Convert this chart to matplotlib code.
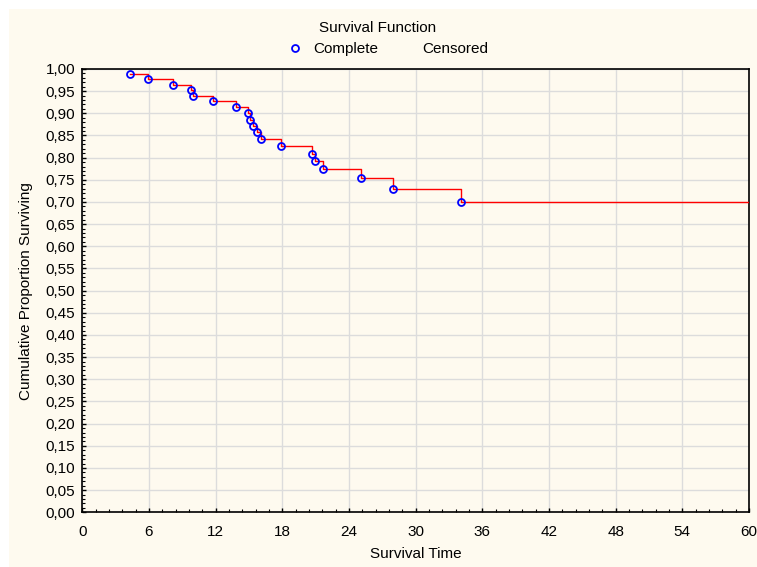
import matplotlib
matplotlib.use('Agg')
import matplotlib.pyplot as plt
from matplotlib.patches import Rectangle
from matplotlib.ticker import MultipleLocator, FuncFormatter
from matplotlib.lines import Line2D

plt.rcParams['font.family'] = ['Liberation Sans', 'DejaVu Sans']

# survival data
times = [4.29, 5.94, 8.14, 9.81, 9.94, 11.79, 13.79, 14.94, 15.08, 15.35,
         15.75, 16.04, 17.87, 20.67, 20.95, 21.64, 25.11, 27.97, 34.06]
surv = [0.989, 0.977, 0.965, 0.953, 0.940, 0.927, 0.914, 0.900, 0.886, 0.872,
        0.857, 0.842, 0.827, 0.809, 0.792, 0.774, 0.753, 0.730, 0.701]
t_end = 60
x_ticks = [0, 6, 12, 18, 24, 30, 36, 42, 48, 54, 60]

cream = '#fefaef'
fs = 11

fig = plt.figure(figsize=(7.57, 5.67), dpi=100)
fig.patch.set_facecolor('white')
fig.patches.append(Rectangle((9 / 757, 0), 1 - 9 / 757, (567 - 9) / 567,
                             transform=fig.transFigure, facecolor=cream,
                             edgecolor='none', zorder=-10))

ax = fig.add_axes([82.3 / 757, (567 - 512.3) / 567,
                   (749 - 82.3) / 757, (512.3 - 69) / 567])
ax.set_facecolor(cream)

# step line, last value carried to the end of the axis
ax.step(times + [t_end], surv + [surv[-1]], where='post', color='red', lw=1, zorder=3)
ax.plot(times, surv, 'o', ms=5, mfc='none', mec='blue', mew=1.3, zorder=4)

ax.set_xlim(0, 60)
ax.set_ylim(0, 1)
ax.set_xticks(x_ticks)
ax.xaxis.set_minor_locator(MultipleLocator(1.2))
ax.yaxis.set_major_locator(MultipleLocator(0.05))
ax.yaxis.set_minor_locator(MultipleLocator(0.01))
ax.yaxis.set_major_formatter(FuncFormatter(lambda v, p: ('%.2f' % v).replace('.', ',')))

ax.grid(True, which='major', color='#dcdcdc', lw=1)
ax.set_axisbelow(True)
ax.tick_params(which='both', direction='in', labelsize=fs, colors='black')
ax.tick_params(which='major', length=3, width=1)
ax.tick_params(which='minor', length=2, width=0.8)
ax.tick_params(axis='x', pad=9)
ax.tick_params(axis='y', pad=5)
for s in ax.spines.values():
    s.set_linewidth(1.2)
    s.set_color('black')

ax.set_xlabel('Survival Time', fontsize=fs, labelpad=6)
ax.set_ylabel('Cumulative Proportion Surviving', fontsize=fs, labelpad=9)

fig.text(0.4985, 1 - 28 / 567, 'Survival Function', ha='center', va='center', fontsize=fs)
handles = [Line2D([], [], ls='none', marker='o', ms=5, mfc='none', mec='blue', mew=1.3),
           Line2D([], [], ls='none', marker='none')]
leg = fig.legend(handles, ['Complete', 'Censored'], loc='center',
                 bbox_to_anchor=(0.512, 1 - 49 / 567), ncol=2, frameon=False,
                 fontsize=fs, handletextpad=0.7, columnspacing=1.2,
                 handlelength=1.0, borderpad=0)

fig.savefig('out.png', dpi=100, facecolor=fig.get_facecolor())
